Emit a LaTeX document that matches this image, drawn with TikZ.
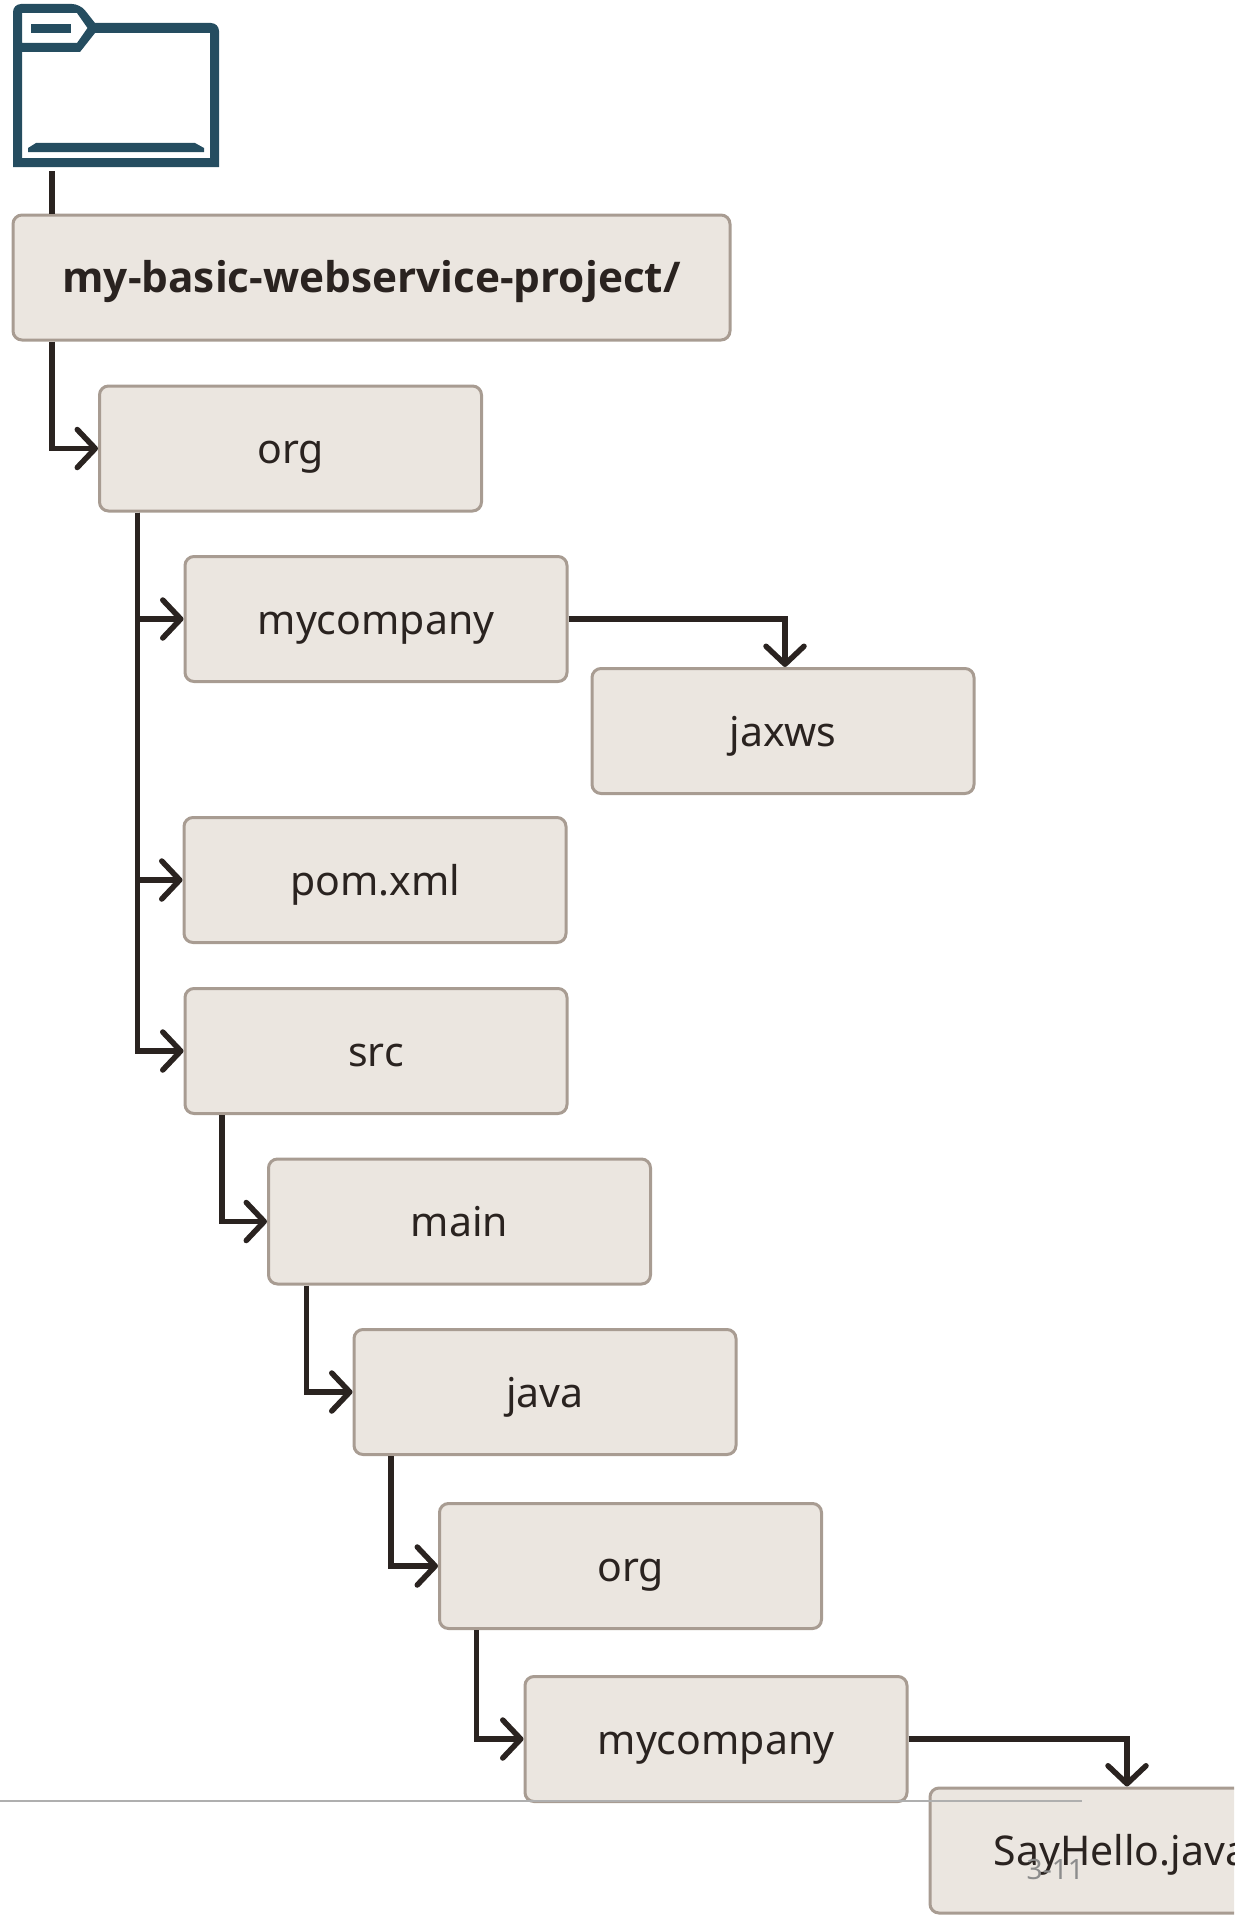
\documentclass[tikz,border=0pt]{standalone}
\usepackage{fontspec}
\setmainfont{Noto Sans}
\newfontfamily\rootfont{Open Sans}
\usetikzlibrary{arrows.meta}
\tikzset{
  >={Straight Barb[length=18pt,width=38pt,round]}
}
\begin{document}
\begin{tikzpicture}[x=1pt,y=-1pt]

            \useasboundingbox (0,0) rectangle (1234,1916);
            \clip (0,0) rectangle (1234,1916);

            % COLORS
            \definecolor{boxfillcolor}{RGB}{235,230,224}
            \definecolor{boxdrawcolor}{RGB}{168,156,146}
            \definecolor{linkcolor}{RGB}{42,35,32}
            \definecolor{foldercolor}{RGB}{37,77,96}
            \definecolor{footcolor}{RGB}{140,140,140}

            % DEF STYLES
            \tikzstyle{boxstyle} = [draw=boxdrawcolor, fill=boxfillcolor, line width=3pt, rounded corners=9pt, minimum width=382pt, minimum height=125pt, text height=34pt, text depth=4pt, text=linkcolor, font=\fontsize{41}{49}\selectfont]
            \tikzstyle{linkstyle} = [line width=5.5pt, color=linkcolor, ->]

            % FOLDER
            \fill[foldercolor, even odd rule] (13,167) [rounded corners=8pt] -- (13,4) -- (80,4) [sharp corners] -- (95,23) [rounded corners=8pt] -- (219,23) [sharp corners] -- (219,167) -- cycle
              (22,13) -- (77,13) -- (87.5,28) -- (77,43) -- (22,43) -- cycle
              (22,52) -- (80,52) -- (95,33) -- (210,33) -- (210,158) -- (22,158) -- cycle;
            \fill[foldercolor] (31,24) rectangle (71,33);
            \fill[foldercolor] (28,152) -- (28,148) -- (36,143) -- (195,143) -- (204,148) -- (204,152) -- cycle;
            \coordinate (v_folder) at (52,171);

            % BOXES
            \node[boxstyle, minimum width=717pt, font=\rootfont\bfseries\fontsize{42.3}{50}\selectfont] (v_root) at (371.5,277.5) {my-basic-webservice-project/};
            \foreach \i/\x/\y/\t in {org/290.5/448.5/org, mycompany/376/619/mycompany, jaxws/783/731/jaxws, pom/375/880/pom.xml, src/376/1051/src, main/459.5/1221.5/main, java/545/1392/java, orgb/630.5/1566/org, mycompanyb/716/1739/mycompany, sayhello/1121/1850.5/SayHello.java} {
              \node[boxstyle] (v_\i) at (\x,\y) {\t};
            }

            % LINKS
            \draw[line width=5.5pt, color=linkcolor] (v_folder) -- ([xshift=40.5pt]v_root.north west);
            \draw[linkstyle] ([xshift=40.5pt]v_root.south west) |- (v_org.west);
            \foreach \k in {mycompany,pom,src} {
              \draw[linkstyle] ([xshift=39.5pt]v_org.south west) |- (v_\k.west);
            }
            \draw[linkstyle] (v_mycompany.east) -| ([xshift=2pt]v_jaxws.north);
            \draw[linkstyle] ([xshift=38.5pt]v_src.south west) |- (v_main.west);
            \draw[linkstyle] ([xshift=39.5pt]v_main.south west) |- (v_java.west);
            \draw[linkstyle] ([xshift=38.5pt]v_java.south west) |- (v_orgb.west);
            \draw[linkstyle] ([xshift=38.5pt]v_orgb.south west) |- (v_mycompanyb.west);
            \draw[linkstyle] (v_mycompanyb.east) -| ([xshift=6pt]v_sayhello.north);

            % FOOTER
            \coordinate (v_footl) at (0,1801);
            \coordinate (v_footr) at (1082,1801);
            \draw[line width=1.2pt, color=footcolor!70] (v_footl) -- (v_footr);
            \node[anchor=base east, inner sep=0pt, text=footcolor, font=\fontsize{28}{34}\selectfont] (v_page) at (1084,1879) {3-11};

          \end{tikzpicture}
\end{document}
